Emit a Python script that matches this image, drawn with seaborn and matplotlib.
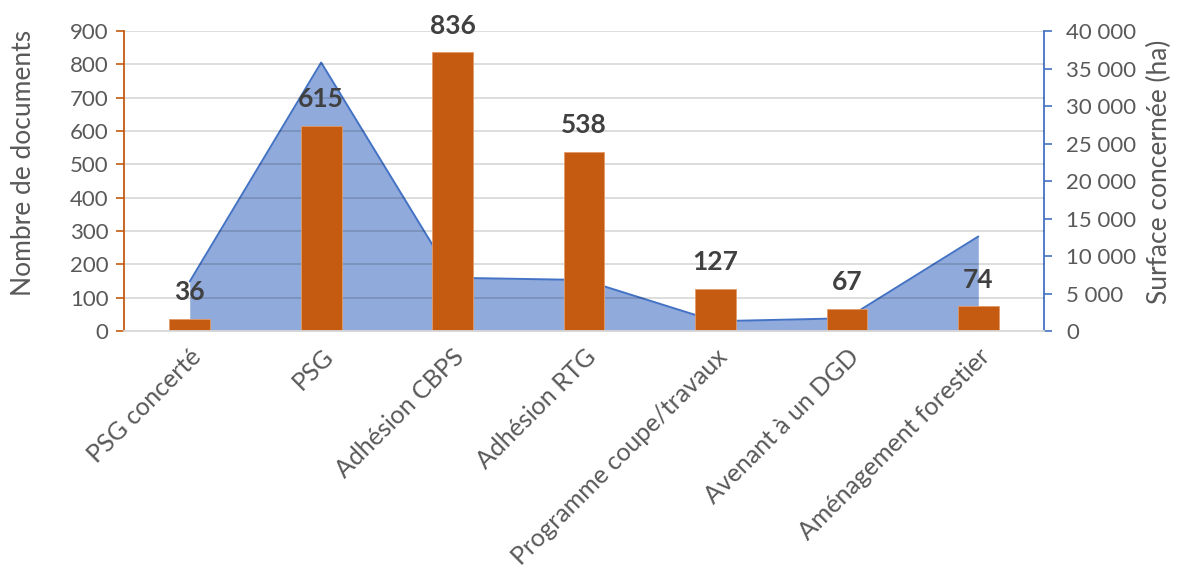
import matplotlib
matplotlib.use("Agg")
import matplotlib.pyplot as plt
from matplotlib.ticker import FuncFormatter, MultipleLocator
import numpy as np
import seaborn as sns

# Style
sns.set_theme(style="white")
plt.rcParams['font.family'] = ['Lato', 'DejaVu Sans']

# Data
categories = ["PSG concerté", "PSG", "Adhésion CBPS", "Adhésion RTG",
              "Programme coupe/travaux", "Avenant à un DGD", "Aménagement forestier"]
nb_documents = [36, 615, 836, 538, 127, 67, 74]
surface_ha = [6600, 35800, 7100, 6800, 1300, 1700, 12600]

orange = '#C55A11'
blue = '#4472C4'
grey = '#595959'

fig = plt.figure(figsize=(11.88, 5.70), dpi=100)
ax = fig.add_axes([0.1044, 0.4193, 0.7744, 0.5263])
ax2 = ax.twinx()
ax.set_zorder(ax2.get_zorder() + 1)
ax.patch.set_visible(False)

# Area (secondary axis), drawn behind the bars
pos = np.arange(len(categories))
ax2.fill_between(pos, surface_ha, color=blue, alpha=0.6, lw=0)
sns.lineplot(x=pos, y=surface_ha, ax=ax2, color=blue, lw=1.4)
ax2.set_ylim(0, 40000)
ax2.yaxis.set_major_locator(MultipleLocator(5000))
ax2.yaxis.set_major_formatter(FuncFormatter(lambda v, p: f"{int(v):,}".replace(",", " ")))

# Bars (primary axis)
sns.barplot(x=categories, y=nb_documents, ax=ax, color=orange, saturation=1,
            width=0.31, edgecolor='#E39A6A', linewidth=0.6)
ax.set_xlim(-0.5, len(categories) - 0.5)
ax.set_ylim(0, 900)
ax.yaxis.set_major_locator(MultipleLocator(100))

for i, v in enumerate(nb_documents):
    ax.annotate(str(v), (i, v), xytext=(0, 13.5), textcoords='offset points',
                ha='center', va='baseline', fontsize=19, fontweight='bold', color='#404040')

# Grid (translucent so it shows darker through the area)
ax.set_axisbelow(True)
ax.yaxis.grid(True, color='black', alpha=0.15, lw=1.3)

# Spines
for s in ['top', 'right']:
    ax.spines[s].set_visible(False)
ax.spines['left'].set_color(orange)
ax.spines['left'].set_linewidth(1.3)
ax.spines['bottom'].set_color('#D9D9D9')
ax.spines['bottom'].set_linewidth(1.3)
for s in ['top', 'left', 'bottom']:
    ax2.spines[s].set_visible(False)
ax2.spines['right'].set_color(blue)
ax2.spines['right'].set_linewidth(1.3)

# Ticks
ax.tick_params(axis='y', left=True, length=6, width=1.2, color=orange,
               labelsize=16, labelcolor=grey, pad=5)
ax2.tick_params(axis='y', right=True, length=6, width=1.2, color=blue,
                labelsize=16, labelcolor=grey, pad=10)
ax.tick_params(axis='x', length=0, pad=10)
ax.set_xticks(pos)
ax.set_xticklabels(categories, rotation=45, ha='right', rotation_mode='anchor',
                   fontsize=18, color=grey)
ax.set_xlabel('')

# Axis titles
ax.set_ylabel('Nombre de documents', fontsize=19, color=grey)
ax.yaxis.set_label_coords(-0.096, 0.56)
ax2.set_ylabel('Surface concernée (ha)', fontsize=19, color=grey)
ax2.yaxis.set_label_coords(1.112, 0.53)

fig.savefig('out.png', dpi=100)
plt.close()
